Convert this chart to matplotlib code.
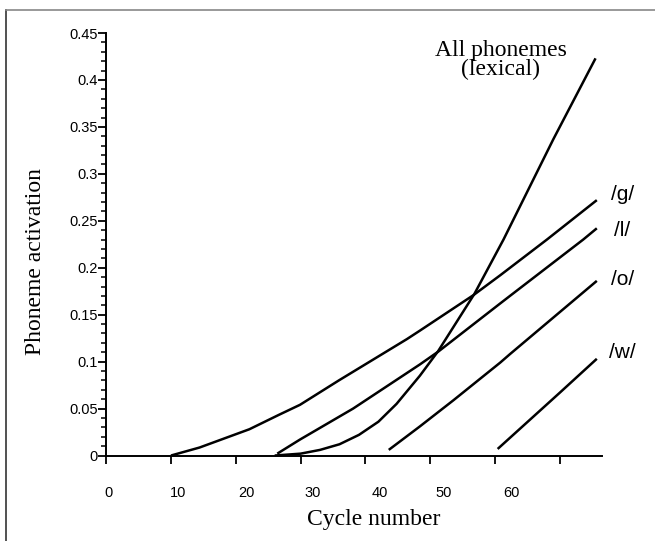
import matplotlib.pyplot as plt
from matplotlib.lines import Line2D

# values (cycle number, phoneme activation)
lex_cycles = [26, 30, 33, 36, 39, 42, 44.8, 48.4, 51.2, 56.8, 61.3, 69, 75.5]
lex_act = [0.0, 0.002, 0.006, 0.012, 0.022, 0.036, 0.055, 0.085, 0.111, 0.172, 0.230, 0.337, 0.423]

g_cycles = [10, 14.4, 22.1, 26.7, 29.9, 35.9, 46.4, 48.4, 56.7, 60.8, 68, 75.7]
g_act = [0.0, 0.0085, 0.028, 0.0435, 0.054, 0.080, 0.124, 0.133, 0.171, 0.192, 0.230, 0.272]

l_cycles = [26.4, 29.9, 38.1, 48.4, 51.3, 60.8, 62.3, 73.6, 75.7]
l_act = [0.002, 0.017, 0.050, 0.097, 0.111, 0.162, 0.170, 0.230, 0.242]

o_cycles = [43.6, 48.4, 53.6, 60.8, 62.3, 75.7]
o_act = [0.006, 0.031, 0.059, 0.099, 0.108, 0.186]

w_cycles = [60.4, 70, 75.7]
w_act = [0.007, 0.067, 0.103]

curve_labels = ["/g/", "/l/", "/o/", "/w/"]
label_act = [0.278, 0.240, 0.187, 0.110]

xtick_values = [0, 10, 20, 30, 40, 50, 60, 70]
xlabel_text = ["0", "10", "20", "30", "40", "50", "60"]
xlabel_pos = [0.4, 11.1, 21.6, 31.9, 42.2, 52.1, 62.5]
ytick_values = [0, 0.05, 0.1, 0.15, 0.2, 0.25, 0.3, 0.35, 0.4, 0.45]
ytick_text = ["0", "0.05", "0.1", "0.15", "0.2", "0.25", "0.3", "0.35", "0.4", "0.45"]

serif = "Liberation Serif"
sans = "Liberation Sans"

fig = plt.figure(figsize=(6.55, 5.41), dpi=100)
ax = fig.add_axes([0.1621, 0.158, 0.757, 0.781])

for xs, ys in [(lex_cycles, lex_act), (g_cycles, g_act), (l_cycles, l_act),
               (o_cycles, o_act), (w_cycles, w_act)]:
    ax.plot(xs, ys, color="black", lw=1.8, clip_on=False, solid_capstyle="butt",
            solid_joinstyle="round")

# labels at the right ends of the phoneme curves
for txt, yv in zip(curve_labels, label_act):
    ax.text(79.6, yv, txt, fontsize=15, family=sans, ha="center", va="center")

ax.text(60.9, 0.421, "All phonemes\n(lexical)", fontsize=17, family=serif,
        ha="center", va="center", linespacing=0.9)

ax.set_xlim(0, 76.5)
ax.set_ylim(0, 0.45)

for side in ["top", "right"]:
    ax.spines[side].set_visible(False)
for side in ["left", "bottom"]:
    ax.spines[side].set_linewidth(1.4)

ax.set_xticks(xtick_values)
ax.set_xticklabels([])
ax.set_xticks(xlabel_pos, xlabel_text, minor=True)
ax.tick_params(axis="x", which="major", direction="out", length=6, width=1.3)
ax.tick_params(axis="x", which="minor", length=0, pad=22, labelsize=10.5)

ax.set_yticks(ytick_values, ytick_text)
ax.set_yticks([v / 100 for v in range(46)], minor=True)
ax.tick_params(axis="y", which="major", direction="out", length=6, width=1.3, pad=0,
               labelsize=10.5)
ax.tick_params(axis="y", which="minor", direction="out", length=3.5, width=1.1)

for lab in ax.get_xticklabels(minor=True) + ax.get_yticklabels():
    lab.set_family(sans)

fig.text(36 / 655, 1 - 262 / 541, "Phoneme activation", rotation=90, fontsize=17,
         family=serif, ha="center", va="center")
fig.text(374 / 655, 1 - 520 / 541, "Cycle number", fontsize=17, family=serif,
         ha="center", va="center")

# scan border
fig.add_artist(Line2D([6 / 655, 6 / 655], [0, 1 - 10 / 541], transform=fig.transFigure,
                      color="#333333", lw=1.2))
fig.add_artist(Line2D([6 / 655, 1], [1 - 10 / 541, 1 - 10 / 541], transform=fig.transFigure,
                      color="#888888", lw=1.2))

fig.savefig("out.png", dpi=100)
